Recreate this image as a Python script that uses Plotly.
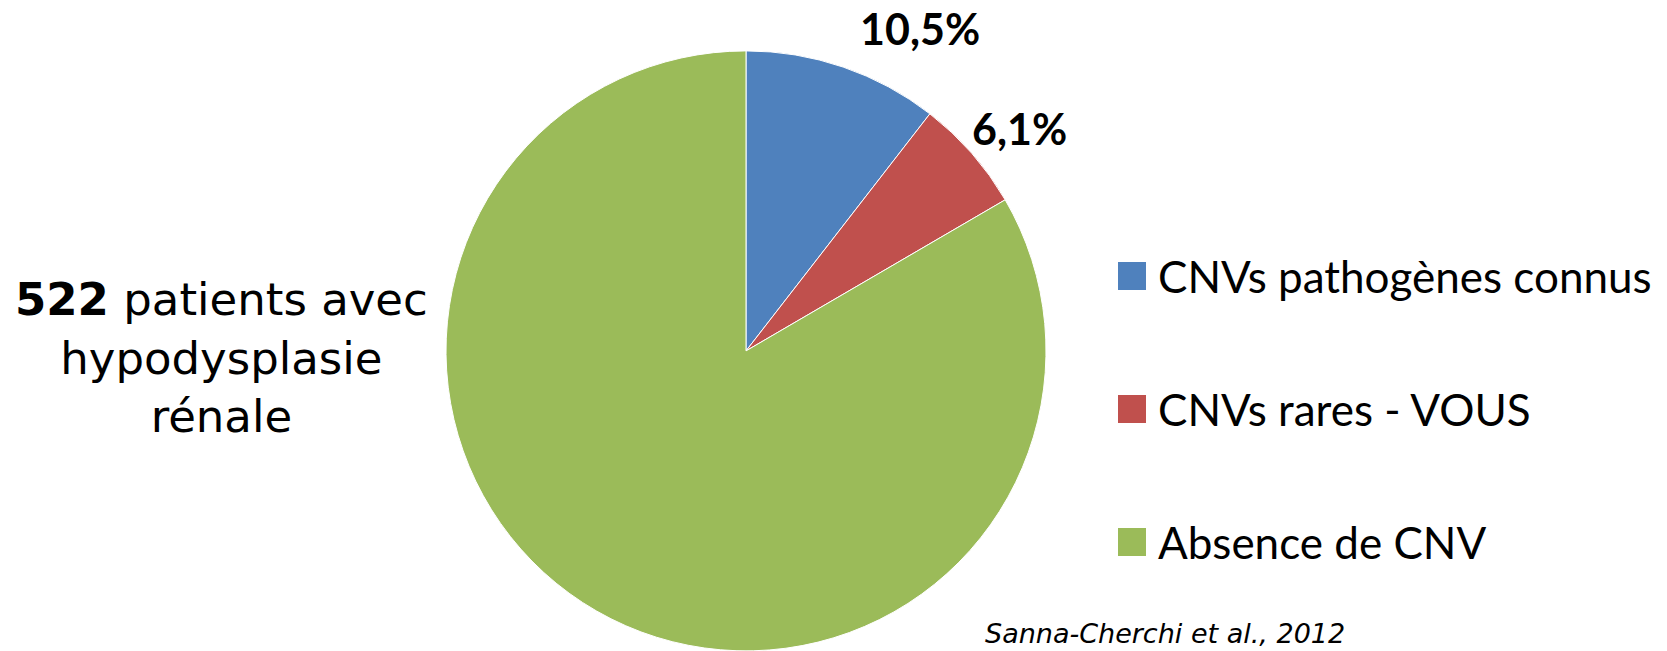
import plotly.graph_objects as go

categories = ["CNVs pathogènes connus", "CNVs rares - VOUS", "Absence de CNV"]
values = [10.5, 6.1, 83.4]
value_labels = ["10,5%", "6,1%"]
colors = ["#4F81BD", "#C0504D", "#9BBB59"]

W, H = 1667, 651

fig = go.Figure(go.Pie(
    labels=categories,
    values=values,
    sort=False,
    direction="clockwise",
    rotation=0,
    marker=dict(colors=colors, line=dict(color="white", width=1)),
    textinfo="none",
    hoverinfo="label+percent",
    showlegend=False,
    domain=dict(x=[446 / W, 1046 / W], y=[0.0, 0.922]),
))

# percentage labels
label_pos = [(920, 29), (1019, 128)]
for txt, (px, py) in zip(value_labels, label_pos):
    fig.add_annotation(x=px / W, y=1 - py / H, xref="paper", yref="paper",
                       text=f"<b>{txt}</b>", showarrow=False,
                       font=dict(family="Lato, Open Sans, sans-serif", size=43, color="black"),
                       xanchor="center", yanchor="middle")

# manual legend
legend_rows = [276, 409, 542]
for cat, col, ry in zip(categories, colors, legend_rows):
    fig.add_shape(type="rect", xref="paper", yref="paper",
                  x0=1118 / W, x1=1146 / W, y0=1 - (ry + 14) / H, y1=1 - (ry - 14) / H,
                  fillcolor=col, line=dict(width=0))
    fig.add_annotation(x=1156 / W, y=1 - ry / H, xref="paper", yref="paper",
                       text=cat, showarrow=False, xanchor="left", yanchor="middle",
                       font=dict(family="Lato, Open Sans, sans-serif", size=44, color="black"))

# left text
fig.add_annotation(x=221 / W, y=1 - 358 / H, xref="paper", yref="paper",
                   text="<b>522</b> patients avec<br>hypodysplasie<br>rénale",
                   showarrow=False, xanchor="center", yanchor="middle", align="center",
                   font=dict(family="DejaVu Sans, sans-serif", size=45, color="black"))

# citation
fig.add_annotation(x=983 / W, y=0, xref="paper", yref="paper",
                   text="<i>Sanna-Cherchi et al., 2012</i>", showarrow=False,
                   xanchor="left", yanchor="bottom",
                   font=dict(family="DejaVu Sans, sans-serif", size=27, color="black"))

fig.update_layout(width=W, height=H, margin=dict(l=0, r=0, t=0, b=0),
                  paper_bgcolor="white", plot_bgcolor="white")

fig.write_html("out.html")
